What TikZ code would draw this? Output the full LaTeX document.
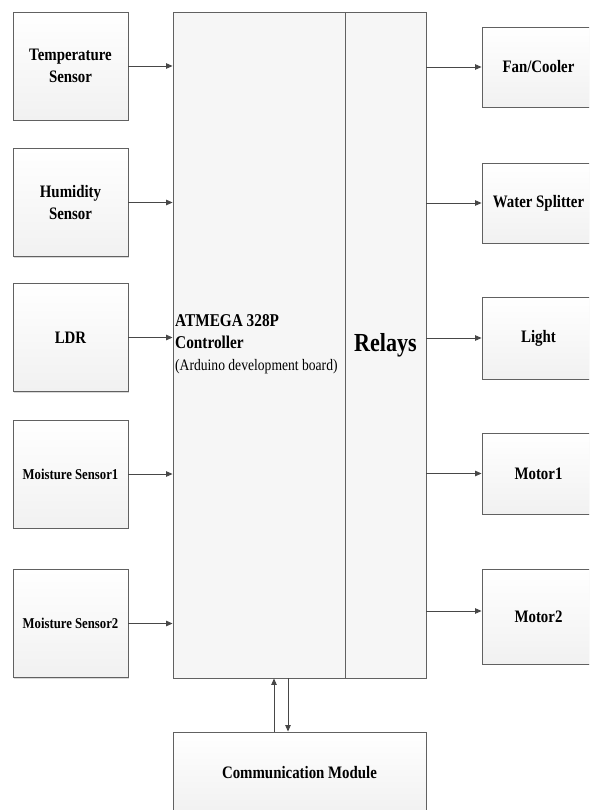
\documentclass[tikz,border=0pt]{standalone}
\usepackage{fontspec}
\setmainfont{Liberation Serif}
\newfontfamily\lblfont[FakeStretch=0.85]{Liberation Serif}
\usetikzlibrary{arrows.meta,shadows}
\tikzset{
  boxline/.style={draw=black!62, line width=0.9pt},
  sbox/.style={boxline, top color=white, bottom color=gray!11, align=center,
    inner sep=2pt, drop shadow={shadow xshift=1.2pt, shadow yshift=-1.2pt, fill=black!25, opacity=0.6},
    font=\lblfont\bfseries\fontsize{17.5}{22}\selectfont},
  smallfont/.style={font=\lblfont\bfseries\fontsize{15}{18}\selectfont},
  arr/.style={draw=black!72, line width=0.9pt, -{Triangle[length=6.5pt,width=5.5pt]}},
}
\begin{document}
\begin{tikzpicture}[x=1pt,y=-1pt]
\useasboundingbox (0,0) rectangle (589,810);
\clip (0,0) rectangle (589,810);
% main blocks
\node[boxline, fill=gray!7, minimum width=172pt, minimum height=666pt, inner sep=0pt,
  drop shadow={shadow xshift=1.2pt, shadow yshift=-1.2pt, fill=black!25, opacity=0.6}] (ctrl) at (259,345) {};
\node[boxline, fill=gray!7, minimum width=81pt, minimum height=666pt, inner sep=0pt,
  drop shadow={shadow xshift=1.2pt, shadow yshift=-1.2pt, fill=black!25, opacity=0.6},
  font=\lblfont\bfseries\fontsize{26}{30}\selectfont] (relay) at (385.5,345) {Relays};
\node[anchor=west, align=left, inner sep=0pt, font=\lblfont\fontsize{16}{22}\selectfont] (ctrltxt) at (175,344)
  {{\bfseries\fontsize{18}{22}\selectfont ATMEGA 328P}\\
   {\bfseries\fontsize{18}{22}\selectfont Controller}\\
   (Arduino development board)};
% inputs
\node[sbox, minimum width=115pt, minimum height=108pt] (temp) at (70.5,66) {Temperature\\Sensor};
\node[sbox, minimum width=115pt, minimum height=108pt] (hum) at (70.5,202.5) {Humidity\\Sensor};
\node[sbox, minimum width=115pt, minimum height=108pt] (ldr) at (70.5,337.5) {LDR};
\node[sbox, smallfont, minimum width=115pt, minimum height=108pt] (ms1) at (70.5,474) {Moisture Sensor1};
\node[sbox, smallfont, minimum width=115pt, minimum height=108pt] (ms2) at (70.5,623.5) {Moisture Sensor2};
% outputs
\node[sbox, minimum width=113pt, minimum height=80pt] (fan) at (538.5,67) {Fan/Cooler};
\node[sbox, minimum width=113pt, minimum height=80pt] (water) at (538.5,203) {Water Splitter};
\node[sbox, minimum width=113pt, minimum height=82pt] (light) at (538.5,338) {Light};
\node[sbox, minimum width=113pt, minimum height=81pt] (mot1) at (538.5,473.5) {Motor1};
\node[sbox, minimum width=113pt, minimum height=95pt] (mot2) at (538.5,616.5) {Motor2};
% communication
\node[sbox, minimum width=253pt, minimum height=82pt] (comm) at (299.5,773) {Communication Module};
% connectors
\foreach \s in {temp,hum,ldr,ms1,ms2}
  \draw[arr] (\s.east) -- (\s.east -| ctrl.west);
\foreach \t in {fan,water,light,mot1}
  \draw[arr] (\t.west -| relay.east) -- (\t.west);
\coordinate (m2y) at (0,611);
\draw[arr] (relay.east |- m2y) -- (mot2.west |- m2y);
\coordinate (upx) at (274,0);
\coordinate (dnx) at (288,0);
\draw[arr] (comm.north -| upx) -- (ctrl.south -| upx);
\draw[arr] (ctrl.south -| dnx) -- (comm.north -| dnx);
\end{tikzpicture}
\end{document}
